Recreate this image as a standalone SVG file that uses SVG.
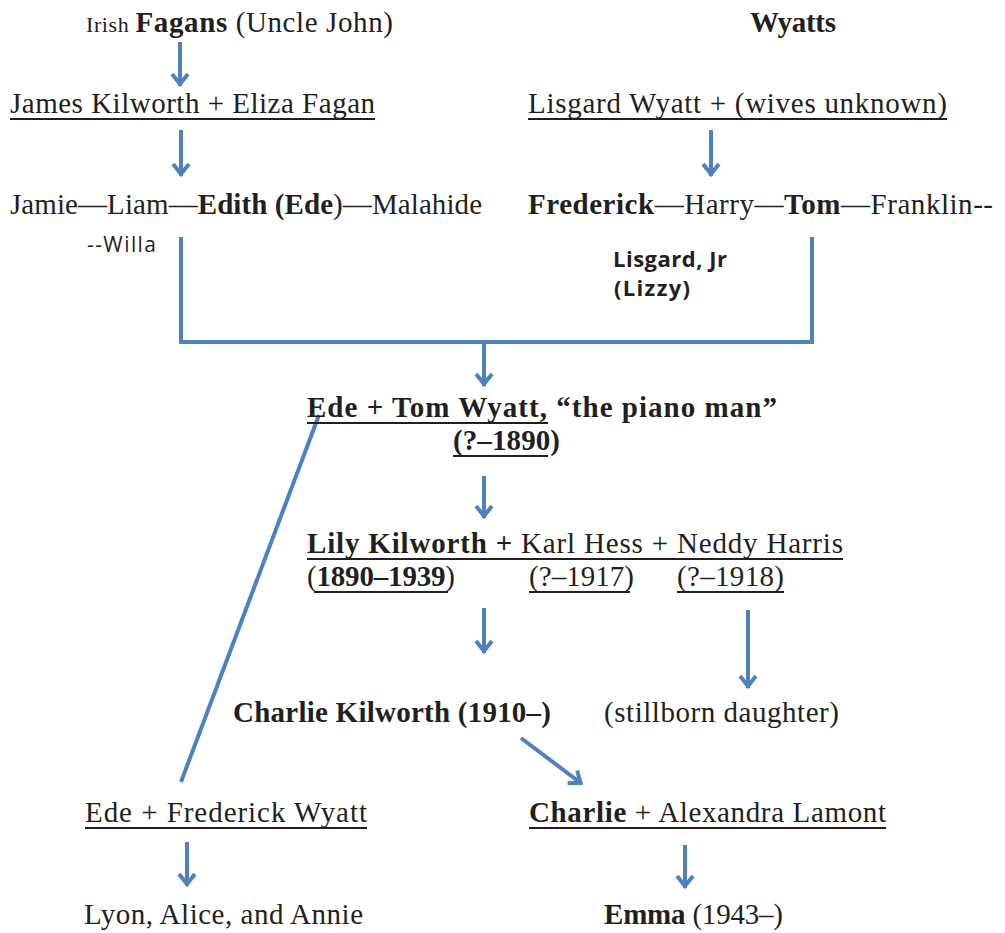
<svg xmlns="http://www.w3.org/2000/svg" width="1005" height="933" viewBox="0 0 1005 933">
<defs>
<style>
text{font-family:"Liberation Serif","Times New Roman",serif;font-size:29px;fill:#231f20}
.b{font-weight:bold}
.s{font-size:22px}
.sans{font-family:"Open Sans","Liberation Sans",sans-serif;font-size:21px}
.sb{font-size:22px}
.ul{stroke:#231f20;stroke-width:2}
.c{stroke:#4F81BD;stroke-width:4;fill:none}
.a{marker-end:url(#ah)}
</style>
<marker id="ah" markerUnits="userSpaceOnUse" markerWidth="30" markerHeight="30" viewBox="-15 -15 30 30" refX="2" refY="0" orient="auto">
<path d="M-10,-8 L0,0 L-10,8" fill="none" stroke="#4F81BD" stroke-width="4" stroke-linejoin="miter"/>
</marker>
</defs>
<rect width="1005" height="933" fill="#fff"/>

<g id="connectors">
<line class="c a" x1="180" y1="42" x2="180" y2="86"/>
<line class="c a" x1="181" y1="130" x2="181" y2="176"/>
<line class="c a" x1="711" y1="130" x2="711" y2="176"/>
<path class="c" d="M181,237 V342 H812 V237"/>
<line class="c a" x1="484" y1="342" x2="484" y2="386"/>
<line class="c" x1="319" y1="415" x2="181" y2="782"/>
<line class="c a" x1="484" y1="476" x2="484" y2="518"/>
<line class="c a" x1="484" y1="608" x2="484" y2="653"/>
<line class="c a" x1="748" y1="610" x2="748" y2="688"/>
<line class="c a" x1="521" y1="738" x2="582" y2="784"/>
<line class="c a" x1="187" y1="842" x2="187" y2="886"/>
<line class="c a" x1="685" y1="845" x2="685" y2="888"/>
</g>

<g id="fagans"><text x="86" y="32" textLength="307"><tspan class="s">Irish </tspan><tspan class="b">Fagans</tspan> (Uncle John)</text></g>
<g id="wyatts"><text class="b" x="750" y="32" textLength="86">Wyatts</text></g>
<g id="james"><text x="10" y="113" textLength="365">James Kilworth + Eliza Fagan</text><line class="ul" x1="10" y1="119" x2="375" y2="119"/></g>
<g id="lisgard"><text x="528" y="113" textLength="419">Lisgard Wyatt + (wives unknown)</text><line class="ul" x1="528" y1="119" x2="947" y2="119"/></g>
<g id="kilworth-children"><text x="10" y="214" textLength="472">Jamie—Liam—<tspan class="b">Edith (Ede</tspan>)—Malahide</text>
<text class="sans" x="87" y="252" textLength="69">--Willa</text></g>
<g id="wyatt-children"><text x="528" y="214" textLength="465"><tspan class="b">Frederick</tspan>—Harry—<tspan class="b">Tom</tspan>—Franklin--</text>
<text class="sans sb b" x="613" y="267" textLength="114">Lisgard, Jr</text>
<text class="sans sb b" x="614" y="296" textLength="76">(Lizzy)</text></g>
<g id="ede-tom"><text class="b" x="307" y="417" textLength="470">Ede + Tom Wyatt, “the piano man”</text><line class="ul" x1="307" y1="423" x2="548" y2="423"/>
<text class="b" x="453" y="450" textLength="107">(?–1890)</text><line class="ul" x1="453" y1="456" x2="548" y2="456"/></g>
<g id="lily"><text x="307" y="553" textLength="536"><tspan class="b">Lily Kilworth +</tspan> Karl Hess + Neddy Harris</text><line class="ul" x1="307" y1="559" x2="843" y2="559"/>
<text x="307" y="586" textLength="148">(<tspan class="b">1890–1939</tspan>)</text><line class="ul" x1="314" y1="592" x2="448" y2="592"/>
<text x="529" y="586" textLength="105">(?–1917)</text><line class="ul" x1="529" y1="592" x2="630" y2="592"/>
<text x="677" y="586" textLength="107">(?–1918)</text><line class="ul" x1="677" y1="592" x2="784" y2="592"/></g>
<g id="charlie"><text class="b" x="233" y="722" textLength="318">Charlie Kilworth (1910–)</text></g>
<g id="stillborn"><text x="604" y="722" textLength="235">(stillborn daughter)</text></g>
<g id="ede-frederick"><text x="85" y="822" textLength="282">Ede + Frederick Wyatt</text><line class="ul" x1="85" y1="828" x2="367" y2="828"/></g>
<g id="charlie-alexandra"><text x="529" y="822" textLength="357"><tspan class="b">Charlie</tspan> + Alexandra Lamont</text><line class="ul" x1="529" y1="828" x2="886" y2="828"/></g>
<g id="lyon"><text x="84" y="924" textLength="279">Lyon, Alice, and Annie</text></g>
<g id="emma"><text x="604" y="924" textLength="179"><tspan class="b">Emma</tspan> (1943–)</text></g>
</svg>
